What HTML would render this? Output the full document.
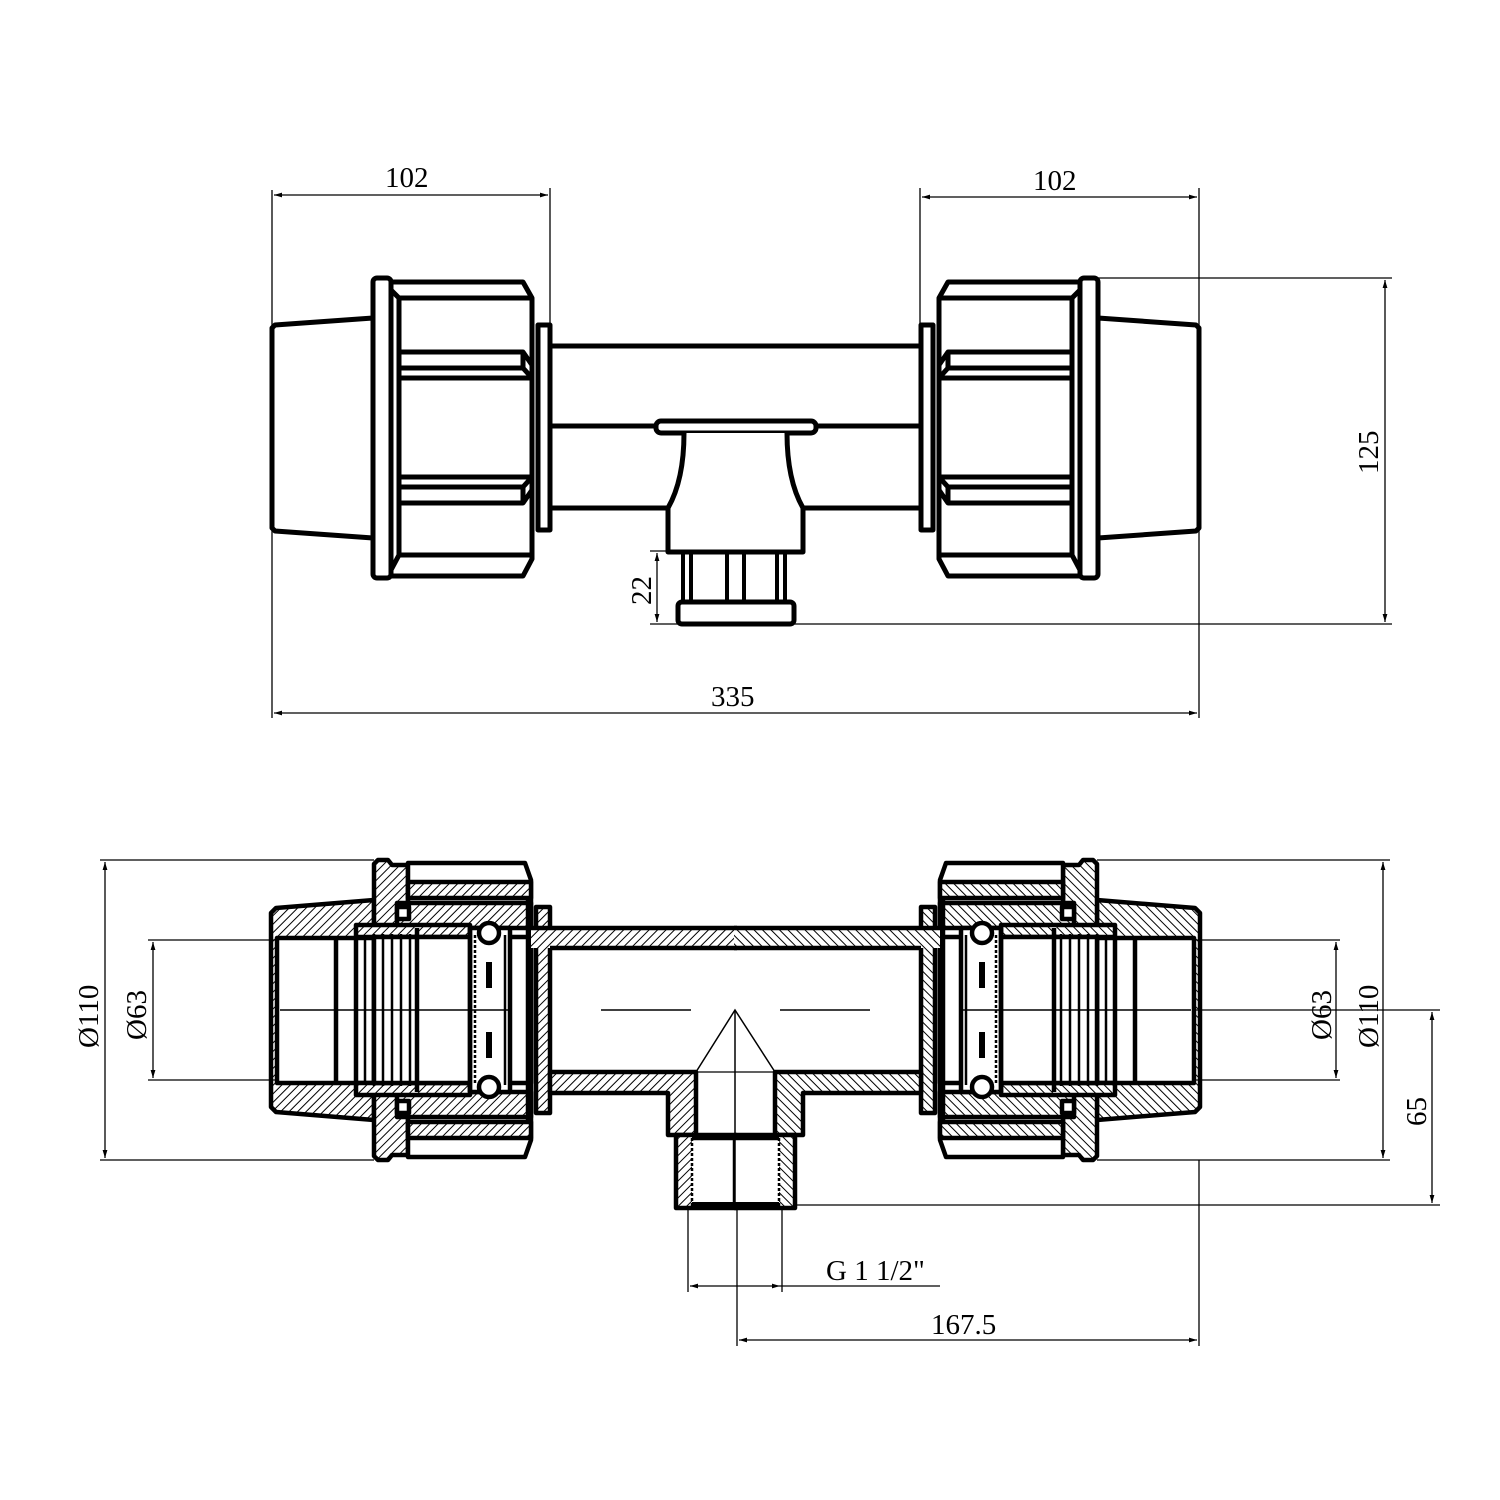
<!DOCTYPE html>
<html><head><meta charset="utf-8"><style>
html,body{margin:0;padding:0;background:#fff}
svg{display:block}
text{font-family:"Liberation Serif",serif;font-size:29px;fill:#000}
</style></head><body>
<svg width="1500" height="1500" viewBox="0 0 1500 1500" xmlns="http://www.w3.org/2000/svg">
<defs>
<pattern id="h" width="6" height="6" patternUnits="userSpaceOnUse" patternTransform="rotate(45)">
<rect width="6" height="6" fill="#fff"/><line x1="0" y1="0" x2="0" y2="6" stroke="#000" stroke-width="2"/>
</pattern>
<marker id="a" viewBox="0 0 10 10" refX="10" refY="5" markerWidth="16" markerHeight="8" orient="auto-start-reverse" markerUnits="userSpaceOnUse"><path d="M0,2 L10,5 L0,8 Z" fill="#000"/></marker>
<g id="topL" fill="#fff" stroke="#000" stroke-width="5" stroke-linejoin="round">
  <path d="M272,328 L275,325 L373,318 L373,538 L275,531 L272,528 Z"/>
  <rect x="373" y="278" width="18" height="300" rx="4"/>
  <path d="M391,282 L523,282 L532,298 L532,559 L523,576 L391,576 Z"/>
  <path d="M391,290 L399,298 L532,298" fill="none"/>
  <path d="M391,570 L399,555 L532,555" fill="none"/>
  <line x1="399" y1="298" x2="399" y2="555"/>
  <path d="M399,352 L523,352 L532,365 L532,378 L399,378" fill="none"/>
  <path d="M399,368 L523,368 L532,378" fill="none"/>
  <path d="M523,352 L523,368" fill="none"/>
  <path d="M399,477 L532,477 L532,490 L523,503 L399,503" fill="none"/>
  <path d="M399,487 L523,487 L532,477" fill="none"/>
  <path d="M523,487 L523,503" fill="none"/>
  <rect x="538" y="325" width="12" height="205"/>
  <line x1="550" y1="346" x2="736" y2="346"/>
  <line x1="550" y1="426" x2="657" y2="426"/>
  <line x1="550" y1="508" x2="668" y2="508"/>
</g>
<g id="botL" stroke="#000" stroke-width="4.5" stroke-linejoin="round">
  <path d="M271,913 L276,908 L374,900 L374,1120 L276,1112 L271,1107 Z" fill="url(#h)"/>
  <rect x="277" y="938" width="97" height="145" fill="#fff"/>
  <path d="M374,864 L378,860 L388,860 L392,865 L408,865 L408,1155 L392,1155 L388,1160 L378,1160 L374,1156 Z" fill="url(#h)"/>
  <path d="M408,863 L525,863 L531,880 L531,1140 L525,1157 L408,1157 Z" fill="#fff"/>
  <rect x="408" y="882" width="123" height="16" fill="url(#h)"/>
  <rect x="408" y="1122" width="123" height="16" fill="url(#h)"/>
  <rect x="397" y="903" width="134" height="25" fill="url(#h)"/>
  <rect x="397" y="1092" width="134" height="25" fill="url(#h)"/>
  <rect x="397" y="907" width="12" height="12" fill="#fff"/>
  <rect x="397" y="1101" width="12" height="12" fill="#fff"/>
  <rect x="356" y="925" width="114" height="12" fill="url(#h)"/>
  <rect x="356" y="1083" width="114" height="12" fill="url(#h)"/>
  <rect x="374" y="937" width="157" height="146" fill="#fff"/>
  <rect x="470" y="928" width="40" height="164" fill="#fff"/>
  <g fill="none">
  <line x1="336" y1="938" x2="336" y2="1083"/>
  <line x1="356" y1="938" x2="356" y2="1083"/>
  <line x1="365" y1="936" x2="365" y2="1084" stroke-width="2.5"/>
  <line x1="374" y1="934" x2="374" y2="1086" stroke-width="2.5"/>
  <line x1="383" y1="934" x2="383" y2="1086" stroke-width="2.5"/>
  <line x1="392" y1="934" x2="392" y2="1086" stroke-width="2.5"/>
  <line x1="401" y1="934" x2="401" y2="1086" stroke-width="2.5"/>
  <line x1="410" y1="934" x2="410" y2="1086" stroke-width="2.5"/>
  <line x1="417" y1="928" x2="417" y2="1092"/>
  <line x1="470" y1="928" x2="470" y2="1092"/>
  <line x1="475" y1="935" x2="475" y2="1085" stroke-dasharray="3,2" stroke-width="2.5"/>
  <line x1="505" y1="935" x2="505" y2="1085" stroke-width="2.5"/>
  <line x1="528" y1="900" x2="528" y2="1120"/>
  </g>
  <circle cx="489" cy="933" r="10" fill="#fff"/>
  <circle cx="489" cy="1087" r="10" fill="#fff"/>
  <line x1="489" y1="962" x2="489" y2="988" stroke-width="6"/>
  <line x1="489" y1="1032" x2="489" y2="1058" stroke-width="6"/>
  <rect x="536" y="907" width="14" height="206" fill="url(#h)"/>
  <rect x="531" y="928" width="206" height="20" fill="url(#h)" stroke="none"/>
  <line x1="531" y1="928" x2="737" y2="928"/><line x1="550" y1="948" x2="737" y2="948"/>
  <path d="M550,1072 L696,1072 L696,1135 L668,1135 L668,1093 L550,1093 Z" fill="url(#h)"/>
  <path d="M676,1135 L736,1135 L736,1208 L676,1208 Z" fill="url(#h)"/>
  <rect x="692" y="1138" width="44" height="67" fill="#fff" stroke="none"/>
  <line x1="692" y1="1138" x2="692" y2="1208" stroke-width="2.5" stroke-dasharray="3,2"/>
  <line x1="692" y1="1138" x2="736" y2="1138"/>
  <line x1="692" y1="1205" x2="736" y2="1205" stroke-width="6"/>
</g>
</defs>

<use href="#topL"/>
<use href="#topL" transform="translate(1471,0) scale(-1,1)"/>
<g fill="#fff" stroke="#000" stroke-width="5" stroke-linejoin="round">
  <rect x="656" y="421" width="160" height="12" rx="5"/>
  <path d="M684,433 Q684,480 668,508 L668,552 L803,552 L803,508 Q787,480 787,433"/>
  <g stroke-width="4"><line x1="683" y1="552" x2="683" y2="602"/><line x1="691" y1="552" x2="691" y2="602"/><line x1="727" y1="552" x2="727" y2="602"/><line x1="744" y1="552" x2="744" y2="602"/><line x1="777" y1="552" x2="777" y2="602"/><line x1="785" y1="552" x2="785" y2="602"/></g>
  <rect x="678" y="602" width="116" height="22" rx="4"/>
</g>
<line x1="803" y1="508" x2="921" y2="508" stroke="#000" stroke-width="5"/>
<line x1="816" y1="426" x2="921" y2="426" stroke="#000" stroke-width="5"/>

<g stroke="#000" stroke-width="1.3" fill="none">
  <line x1="272" y1="190" x2="272" y2="718"/>
  <line x1="550" y1="188" x2="550" y2="325"/>
  <line x1="920" y1="188" x2="920" y2="325"/>
  <line x1="1199" y1="188" x2="1199" y2="718"/>
  <line x1="1097" y1="278" x2="1392" y2="278"/>
  <line x1="650" y1="624" x2="1392" y2="624"/>
  <line x1="650" y1="551" x2="683" y2="551"/>
  <line x1="274" y1="195" x2="548" y2="195" marker-start="url(#a)" marker-end="url(#a)"/>
  <line x1="922" y1="197" x2="1197" y2="197" marker-start="url(#a)" marker-end="url(#a)"/>
  <line x1="274" y1="713" x2="1197" y2="713" marker-start="url(#a)" marker-end="url(#a)"/>
  <line x1="1385" y1="280" x2="1385" y2="622" marker-start="url(#a)" marker-end="url(#a)"/>
  <line x1="657" y1="553" x2="657" y2="622" marker-start="url(#a)" marker-end="url(#a)"/>
</g>
<text x="385" y="187">102</text>
<text x="1033" y="190">102</text>
<text x="711" y="706">335</text>
<text transform="translate(1378,474) rotate(-90)">125</text>
<text transform="translate(651,605) rotate(-90)">22</text>

<use href="#botL"/>
<use href="#botL" transform="translate(1471,0) scale(-1,1)"/>
<g stroke="#000" stroke-width="1.5" fill="none">
  <line x1="696" y1="1072" x2="774" y2="1072" stroke-width="1.3"/>
  <path d="M696,1072 L735,1010 L775,1072"/>
  <line x1="735" y1="1010" x2="735" y2="1208"/>
  <line x1="280" y1="1010" x2="512" y2="1010"/>
  <line x1="601" y1="1010" x2="691" y2="1010"/>
  <line x1="780" y1="1010" x2="870" y2="1010"/>
  <line x1="959" y1="1010" x2="1191" y2="1010"/>
</g>
<g stroke="#000" stroke-width="1.3" fill="none">
  <line x1="100" y1="860" x2="374" y2="860"/>
  <line x1="100" y1="1160" x2="374" y2="1160"/>
  <line x1="1097" y1="860" x2="1390" y2="860"/>
  <line x1="1097" y1="1160" x2="1390" y2="1160"/>
  <line x1="148" y1="940" x2="277" y2="940"/>
  <line x1="148" y1="1080" x2="277" y2="1080"/>
  <line x1="1194" y1="940" x2="1340" y2="940"/>
  <line x1="1194" y1="1080" x2="1340" y2="1080"/>
  <line x1="1194" y1="1010" x2="1440" y2="1010"/>
  <line x1="796" y1="1205" x2="1440" y2="1205"/>
  <line x1="688" y1="1208" x2="688" y2="1292"/>
  <line x1="782" y1="1208" x2="782" y2="1292"/>
  <line x1="737" y1="1208" x2="737" y2="1346"/>
  <line x1="1199" y1="1160" x2="1199" y2="1346"/>
  <line x1="105" y1="862" x2="105" y2="1158" marker-start="url(#a)" marker-end="url(#a)"/>
  <line x1="153" y1="942" x2="153" y2="1078" marker-start="url(#a)" marker-end="url(#a)"/>
  <line x1="1383" y1="862" x2="1383" y2="1158" marker-start="url(#a)" marker-end="url(#a)"/>
  <line x1="1336" y1="942" x2="1336" y2="1078" marker-start="url(#a)" marker-end="url(#a)"/>
  <line x1="1432" y1="1012" x2="1432" y2="1203" marker-start="url(#a)" marker-end="url(#a)"/>
  <line x1="690" y1="1286" x2="780" y2="1286" marker-start="url(#a)" marker-end="url(#a)"/>
  <line x1="780" y1="1286" x2="940" y2="1286"/>
  <line x1="739" y1="1340" x2="1197" y2="1340" marker-start="url(#a)" marker-end="url(#a)"/>
</g>
<text transform="translate(98,1048) rotate(-90)">Ø110</text>
<text transform="translate(146,1040) rotate(-90)">Ø63</text>
<text transform="translate(1331,1040) rotate(-90)">Ø63</text>
<text transform="translate(1378,1048) rotate(-90)">Ø110</text>
<text transform="translate(1426,1126) rotate(-90)">65</text>
<text x="826" y="1280">G 1 1/2"</text>
<text x="931" y="1334">167.5</text>
</svg>
</body></html>
